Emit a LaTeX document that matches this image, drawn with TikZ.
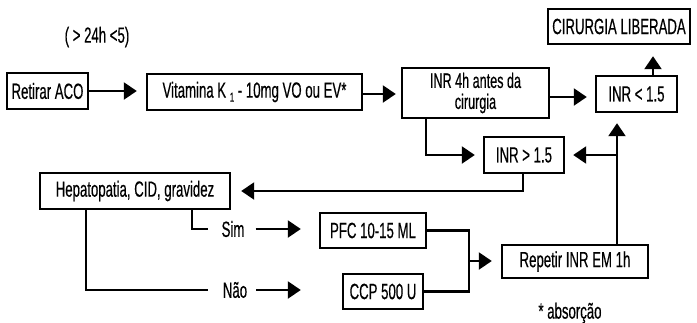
\documentclass[tikz,border=0pt]{standalone}
\usepackage{fontspec}
\setmainfont{Liberation Sans}[FakeStretch=0.6,FakeBold=0.4]
\usetikzlibrary{arrows.meta}
\begin{document}
\begin{tikzpicture}[x=1pt,y=-1pt,
  font=\fontsize{22}{22}\selectfont,
  box/.style={draw=black, line width=2.4pt, inner sep=0pt, align=center},
  conn/.style={line width=2.3pt, -{Triangle[length=13pt,width=17pt]}},
  plain/.style={line width=2.3pt}]
\useasboundingbox (0,0) rectangle (697,322);
% boxes
\node[box, minimum width=81pt, minimum height=36pt] (ret) at (47.5,91) {Retirar ACO};
\node[box, minimum width=215pt, minimum height=36pt] (vitk) at (254.5,92) {Vitamina K\,\raisebox{-4pt}{\fontsize{13}{13}\selectfont 1} - 10mg VO ou EV*};
\node[box, minimum width=147pt, minimum height=50pt, font=\fontsize{21}{21}\selectfont] (inr4) at (475.5,93) {INR 4h antes da\\cirurgia};
\node[box, minimum width=81pt, minimum height=36pt] (inrlt) at (636.5,94) {INR < 1.5};
\node[box, minimum width=142pt, minimum height=35pt] (cir) at (619,26.5) {CIRURGIA LIBERADA};
\node[box, minimum width=80pt, minimum height=36pt] (inrgt) at (524,155) {INR > 1.5};
\node[box, minimum width=190pt, minimum height=36pt] (hep) at (135,191) {Hepatopatia, CID, gravidez};
\node[box, minimum width=106pt, minimum height=35pt] (pfc) at (373,230.5) {PFC 10-15 ML};
\node[box, minimum width=80pt, minimum height=35pt] (ccp) at (383,291.5) {CCP 500 U};
\node[box, minimum width=146pt, minimum height=33pt] (rep) at (575,261.5) {Repetir INR EM 1h};
% labels
\node (note) at (97,37) {( > 24h <5)};
\node (abs) at (570,313) {* absorção};
\node[inner sep=0pt] (sim) at (233,229) {Sim};
\node[inner sep=0pt] (nao) at (235,290) {Não};
% helper coordinates
\coordinate (up) at (617,155);
\coordinate (join) at (469,261);
% connectors
\draw[conn, shorten >=9pt] (ret.east) -- (ret.east -| vitk.west);
\draw[conn, shorten >=5pt] ([yshift=-2pt]vitk.east) -- ([yshift=-2pt]vitk.east -| inr4.west);
\draw[conn, shorten >=8pt] ([yshift=-4pt]inr4.east) -- ([yshift=-4pt]inr4.east -| inrlt.west);
\draw[conn, shorten >=11pt] ([xshift=16.5pt]inrlt.north) -- ([xshift=16.5pt]inrlt.north |- cir.south);
\draw[conn, shorten >=8pt] ([xshift=-49.5pt]inr4.south) |- (inrgt.west);
\draw[conn, shorten >=10pt] (rep.north -| up) -- (inrlt.south -| up);
\draw[conn, shorten >=8pt] (up) -- (up -| inrgt.east);
\draw[conn, shorten >=10pt] ([xshift=-1pt]inrgt.south) |- (hep.east);
\draw[plain] ([xshift=57pt]hep.south) |- ([xshift=-25pt]sim.center);
\draw[conn, shorten <=11pt, shorten >=18pt] (sim.east) -- (sim.east -| pfc.west);
\draw[plain] ([xshift=-49pt]hep.south) |- ([xshift=-27pt]nao.center);
\draw[conn, shorten <=9pt, shorten >=41pt] (nao.east) -- (nao.east -| ccp.west);
\draw[plain] (pfc.east) -| (join) |- (ccp.east);
\draw[conn, shorten >=9pt] (join) -- (join -| rep.west);
\end{tikzpicture}
\end{document}
